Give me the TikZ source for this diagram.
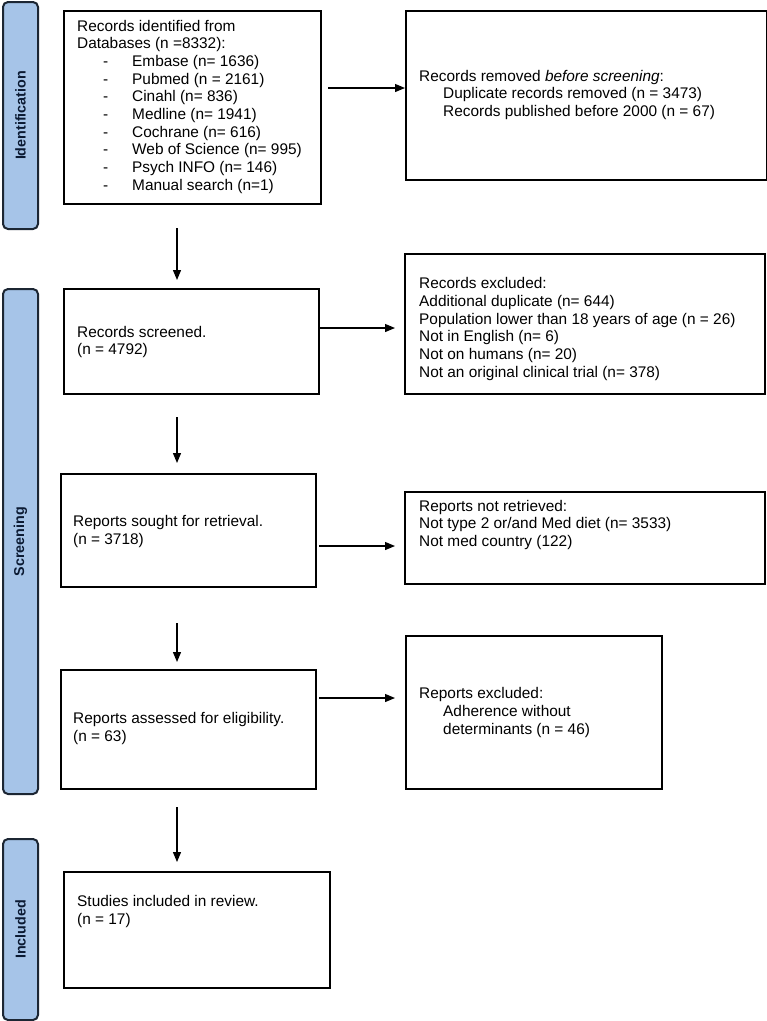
\documentclass[tikz,border=0pt]{standalone}
\usepackage{fontspec}
\setmainfont{Liberation Sans}
\usetikzlibrary{arrows.meta}
\definecolor{sidefill}{HTML}{A6C4E8}
\definecolor{sideline}{HTML}{1C2633}
\definecolor{sidetext}{HTML}{0B1A33}
\newcommand{\dashitem}[1]{\hspace*{26pt}\makebox[29pt][l]{-}#1}
\newcommand{\indentline}[1]{\hspace*{24pt}#1}
\begin{document}
\begin{tikzpicture}[x=1pt,y=-1pt,
  box/.style={draw=black, line width=2.2pt, fill=white, inner sep=0pt, anchor=north west},
  side/.style={draw=sideline, line width=2pt, fill=sidefill, rounded corners=5pt, inner sep=0pt, anchor=north west},
  sidelab/.style={rotate=90, font=\fontsize{14.3}{16}\selectfont\bfseries, text=sidetext},
  txt/.style={align=left, anchor=west, inner sep=0pt, font=\fontsize{15.4}{17.7}\selectfont},
  arr/.style={-{Triangle[length=10pt,width=8pt]}, line width=1.2pt}]
\useasboundingbox (0,0) rectangle (767,1021);
\fill[white] (0,0) rectangle (767,1021);

% sidebars
\node[side, minimum width=35pt, minimum height=227pt] (s1) at (2,1) {};
\node[sidelab] (l1) at (s1.center) {Identification};
\node[side, minimum width=35pt, minimum height=505pt] (s2) at (2,288) {};
\node[sidelab] (l2) at (s2.center) {Screening};
\node[side, minimum width=35pt, minimum height=181pt] (s3) at (2,838) {};
\node[sidelab] (l3) at (s3.center) {Included};

% boxes
\node[box, minimum width=257pt, minimum height=193pt] (b1) at (63,10) {};
\node[box, minimum width=361pt, minimum height=169pt] (b2) at (405,10) {};
\node[box, minimum width=255pt, minimum height=105pt] (b3) at (63,288) {};
\node[box, minimum width=360pt, minimum height=140pt] (b4) at (404,253) {};
\node[box, minimum width=255pt, minimum height=113pt] (b5) at (60,473) {};
\node[box, minimum width=360pt, minimum height=92pt] (b6) at (404,491) {};
\node[box, minimum width=255pt, minimum height=119pt] (b7) at (60,669) {};
\node[box, minimum width=256pt, minimum height=153pt] (b8) at (405,635) {};
\node[box, minimum width=266pt, minimum height=116pt] (b9) at (63,871) {};

% texts
\node[txt] (t1) at (77,106.7) {Records identified from\\Databases (n =8332):\\
  \dashitem{Embase (n= 1636)}\\
  \dashitem{Pubmed (n = 2161)}\\
  \dashitem{Cinahl (n= 836)}\\
  \dashitem{Medline (n= 1941)}\\
  \dashitem{Cochrane (n= 616)}\\
  \dashitem{Web of Science (n= 995)}\\
  \dashitem{Psych INFO (n= 146)}\\
  \dashitem{Manual search (n=1)}};
\node[txt] (t2) at (419,95) {Records removed \textit{before screening}:\\
  \indentline{Duplicate records removed (n = 3473)}\\
  \indentline{Records published before 2000 (n = 67)}};
\node[txt] (t3) at (77,342) {Records screened.\\(n = 4792)};
\node[txt] (t4) at (419,329) {Records excluded:\\
  Additional duplicate (n= 644)\\
  Population lower than 18 years of age (n = 26)\\
  Not in English (n= 6)\\
  Not on humans (n= 20)\\
  Not an original clinical trial (n= 378)};
\node[txt] (t5) at (73,531.3) {Reports sought for retrieval.\\(n = 3718)};
\node[txt] (t6) at (419,525) {Reports not retrieved:\\
  Not type 2 or/and Med diet (n= 3533)\\
  Not med country (122)};
\node[txt] (t7) at (73,728.8) {Reports assessed for eligibility.\\(n = 63)};
\node[txt] (t8) at (419,712.5) {Reports excluded:\\
  \indentline{Adherence without}\\
  \indentline{determinants (n = 46)}};
\node[txt] (t9) at (77,911.7) {Studies included in review.\\(n = 17)};

% connectors
\coordinate (c1) at (328,88);
\draw[arr] (c1) -- (c1 -| b2.west);
\coordinate (c2) at (177,228);
\draw[arr] (c2) -- ([yshift=8pt]c2 |- b3.north);
\coordinate (c3) at (320,328);
\draw[arr] (c3) -- ([xshift=-9pt]c3 -| b4.west);
\coordinate (c4) at (177,417);
\draw[arr] (c4) -- ([yshift=10pt]c4 |- b5.north);
\coordinate (c5) at (319,546);
\draw[arr] (c5) -- ([xshift=-9pt]c5 -| b6.west);
\coordinate (c6) at (177,623);
\draw[arr] (c6) -- ([yshift=7pt]c6 |- b7.north);
\coordinate (c7) at (319,698);
\draw[arr] (c7) -- ([xshift=-10pt]c7 -| b8.west);
\coordinate (c8) at (177,807);
\draw[arr] (c8) -- ([yshift=9pt]c8 |- b9.north);
\end{tikzpicture}
\end{document}
